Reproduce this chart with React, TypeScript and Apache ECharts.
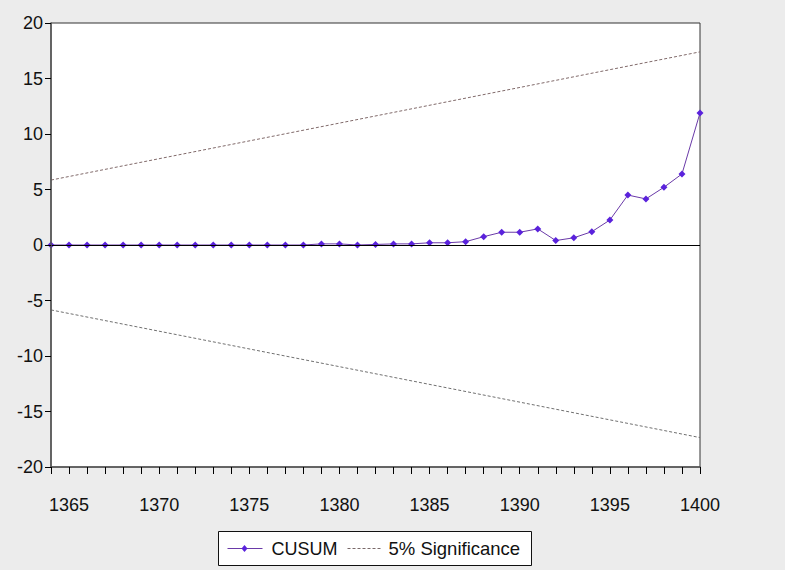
import React, { useEffect, useRef } from "react";
import * as echarts from "echarts";

const years = [1364, 1365, 1366, 1367, 1368, 1369, 1370, 1371, 1372, 1373, 1374, 1375, 1376, 1377, 1378, 1379, 1380, 1381, 1382, 1383, 1384, 1385, 1386, 1387, 1388, 1389, 1390, 1391, 1392, 1393, 1394, 1395, 1396, 1397, 1398, 1399, 1400];
const cusum = [0, 0, 0, 0, 0, 0, 0, 0, 0, 0, 0, 0, 0, 0, 0, 0.1, 0.1, 0, 0.05, 0.1, 0.1, 0.2, 0.2, 0.3, 0.75, 1.15, 1.15, 1.45, 0.4, 0.65, 1.2, 2.25, 4.5, 4.15, 5.2, 6.4, 11.9];
const boundYears = [1364, 1400];
const upperBound = [5.85, 17.4];
const lowerBound = [-5.85, -17.35];
const yTicks = { min: -20, max: 20, interval: 5 };
const legendNames = ["CUSUM", "5% Significance"];

const CUSUM_LINE = "#6a3aa8";
const CUSUM_MARK = "#5a22dc";
const SIG_COLOR = "#7a6a6a";

export default function App() {
  const ref = useRef<HTMLDivElement>(null);
  useEffect(() => {
    document.body.style.margin = "0";
    const chart = echarts.init(ref.current!, null, { renderer: "svg" });
    const font = "'Liberation Sans', Arial, sans-serif";
    chart.setOption({
      animation: false,
      backgroundColor: "#ececec",
      textStyle: { fontFamily: font },
      grid: {
        left: 51,
        right: 85,
        top: 23,
        bottom: 103,
        show: true,
        backgroundColor: "#ffffff",
        borderColor: "#333333",
        borderWidth: 1,
        z: 0,
      },
      xAxis: {
        type: "value",
        min: 1364,
        max: 1400,
        interval: 1,
        z: 5,
        axisLine: { show: true, onZero: false, lineStyle: { color: "#555555", width: 1.5 } },
        axisTick: { show: true, length: 7, inside: false, interval: 0, lineStyle: { color: "#000000", width: 1, opacity: 1 } },
        splitLine: { show: false },
        axisLabel: {
          color: "#111111",
          fontSize: 18,
          fontFamily: font,
          margin: 29,
          formatter: (v: number) => ((v - 1365) % 5 === 0 ? String(v) : ""),
        },
      },
      yAxis: {
        type: "value",
        min: yTicks.min,
        max: yTicks.max,
        interval: yTicks.interval,
        z: 5,
        axisLine: { show: true, onZero: false, lineStyle: { color: "#555555", width: 1.5 } },
        axisTick: { show: true, length: 6, inside: false, lineStyle: { color: "#000000", width: 1, opacity: 1 } },
        splitLine: { show: false },
        axisLabel: { color: "#111111", fontSize: 18, fontFamily: font, margin: 8 },
      },
      graphic: [
        {
          type: "group",
          left: 218,
          top: 531,
          children: [
            { type: "rect", shape: { x: 0, y: 0, width: 313, height: 34 }, style: { fill: "#ffffff", stroke: "#111111", lineWidth: 1 } },
            { type: "line", shape: { x1: 9, y1: 17, x2: 44, y2: 17 }, style: { stroke: CUSUM_LINE, lineWidth: 1 } },
            { type: "polygon", shape: { points: [[26, 13.5], [29, 17], [26, 20.5], [23, 17]] }, style: { fill: CUSUM_MARK } },
            { type: "text", x: 53, y: 17, style: { text: legendNames[0], fill: "#111111", font: "18px " + font, verticalAlign: "middle" } },
            { type: "line", shape: { x1: 129, y1: 17, x2: 163, y2: 17 }, style: { stroke: SIG_COLOR, lineWidth: 1, lineDash: [3, 2] } },
            { type: "text", x: 170, y: 17, style: { text: legendNames[1], fill: "#111111", font: "18.5px " + font, verticalAlign: "middle" } },
          ],
        },
      ],
      series: [
        {
          name: "CUSUM",
          type: "line",
          data: years.map((y, i) => [y, cusum[i]]),
          symbol: "diamond",
          symbolSize: 7,
          showSymbol: true,
          itemStyle: { color: CUSUM_MARK },
          lineStyle: { color: CUSUM_LINE, width: 1 },
          z: 3,
          markLine: {
            silent: true,
            symbol: "none",
            label: { show: false },
            lineStyle: { color: "#000000", width: 1, type: "solid" },
            data: [{ yAxis: 0 }],
          },
        },
        {
          name: "5% Significance",
          type: "line",
          data: boundYears.map((y, i) => [y, upperBound[i]]),
          symbol: "none",
          lineStyle: { color: "#806a6a", width: 1, type: [3, 2] },
          z: 2,
        },
        {
          name: "5% Significance",
          type: "line",
          data: boundYears.map((y, i) => [y, lowerBound[i]]),
          symbol: "none",
          lineStyle: { color: "#707070", width: 1, type: [3, 2] },
          z: 2,
        },
      ],
    });
    return () => chart.dispose();
  }, []);
  return <div ref={ref} style={{ width: 785, height: 570 }} />;
}
